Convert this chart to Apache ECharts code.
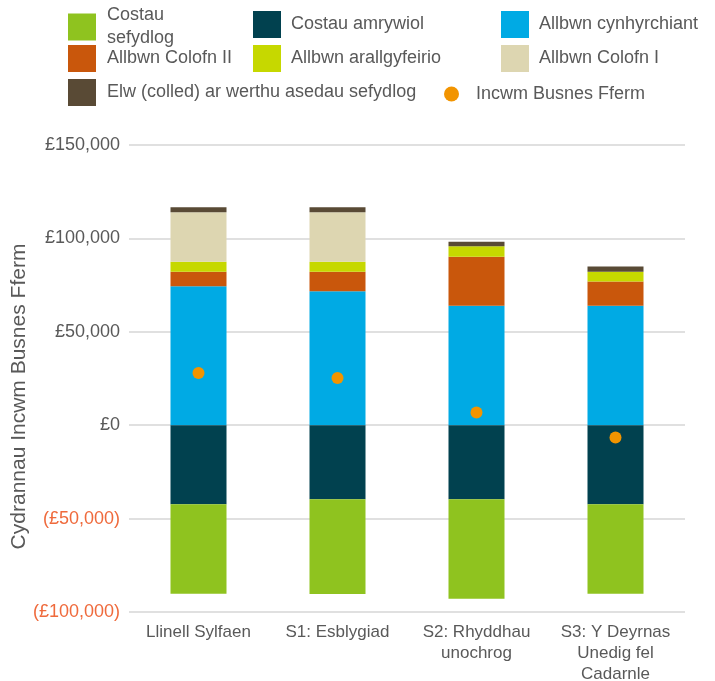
<!DOCTYPE html>
<html>
<head>
<meta charset="utf-8">
<script src="https://cdn.jsdelivr.net/npm/echarts@6/dist/echarts.min.js"></script>
<style>
html,body{margin:0;padding:0;background:#fff;}
#chart{width:715px;height:681px;}
</style>
</head>
<body>
<div id="chart"></div>
<script>
// ---- Data ----
const categories = ['Llinell Sylfaen', 'S1: Esblygiad', 'S2: Rhyddhau\nunochrog', 'S3: Y Deyrnas\nUnedig fel\nCadarnle'];
const allbwnCynhyrchiant = [74400, 71700, 63900, 63900];
const allbwnColofnII = [7800, 10500, 26300, 13000];
const allbwnArallgyfeirio = [5300, 5300, 5600, 5300];
const allbwnColofnI = [26500, 26500, 0, 0];
const elwAsedau = [2700, 2700, 2400, 2700];
const costauAmrywiol = [-42300, -39700, -39700, -42300];
const costauSefydlog = [-47900, -50600, -53200, -47900];
const incwmBusnesFferm = [28000, 25300, 6800, -6600];
const yTicks = { min: -100000, max: 150000, interval: 50000 };

const names = {
  sef: 'Costau sefydlog',
  amr: 'Costau amrywiol',
  cyn: 'Allbwn cynhyrchiant',
  c2: 'Allbwn Colofn II',
  ara: 'Allbwn arallgyfeirio',
  c1: 'Allbwn Colofn I',
  elw: 'Elw (colled) ar werthu asedau sefydlog',
  inc: 'Incwm Busnes Fferm'
};
const colors = {
  sef: '#8FC31F',
  amr: '#01414F',
  cyn: '#00AAE4',
  c2: '#C9570C',
  ara: '#C6D800',
  c1: '#DDD6B1',
  elw: '#594A35',
  inc: '#F29400'
};

const textColor = '#595959';
const fontFamily = 'Liberation Sans, Arial, Helvetica, sans-serif';

function ts(padLeft, extra) {
  return Object.assign({ color: textColor, fontSize: 18, fontFamily: fontFamily, padding: [0, 0, 0, padLeft] }, extra || {});
}

function legendItem(key, left, top, opts) {
  opts = opts || {};
  return Object.assign({
    data: [names[key]],
    left: left,
    top: top,
    padding: 0,
    itemWidth: 28,
    itemHeight: 27,
    icon: 'rect',
    selectedMode: false,
    textStyle: ts(6)
  }, opts);
}

const legends = [
  legendItem('sef', 68, 4, { formatter: () => 'Costau\nsefydlog', textStyle: ts(6, { lineHeight: 23 }) }),
  legendItem('amr', 253, 11, { textStyle: ts(5) }),
  legendItem('cyn', 501, 11, { textStyle: ts(5) }),
  legendItem('c2', 68, 45),
  legendItem('ara', 253, 45, { textStyle: ts(5) }),
  legendItem('c1', 501, 45, { textStyle: ts(5) }),
  legendItem('elw', 68, 79),
  legendItem('inc', 444, 85, { icon: 'circle', itemWidth: 15, itemHeight: 15, textStyle: ts(12) })
];

function barSeries(key, data) {
  return {
    name: names[key],
    type: 'bar',
    stack: 'total',
    barWidth: 56,
    data: data,
    itemStyle: { color: colors[key] },
    emphasis: { disabled: true }
  };
}

const series = [
  barSeries('cyn', allbwnCynhyrchiant),
  barSeries('c2', allbwnColofnII),
  barSeries('ara', allbwnArallgyfeirio),
  barSeries('c1', allbwnColofnI),
  barSeries('elw', elwAsedau),
  barSeries('amr', costauAmrywiol),
  barSeries('sef', costauSefydlog),
  {
    name: names.inc,
    type: 'scatter',
    data: incwmBusnesFferm,
    symbol: 'circle',
    symbolSize: 12,
    itemStyle: { color: colors.inc, opacity: 1 },
    emphasis: { disabled: true },
    z: 5
  }
];

function fmt(v) {
  const s = '£' + Math.abs(v).toLocaleString('en-GB');
  return v < 0 ? '(' + s + ')' : s;
}

const chart = echarts.init(document.getElementById('chart'), null, { renderer: 'canvas' });
chart.setOption({
  animation: false,
  backgroundColor: '#ffffff',
  textStyle: { fontFamily: fontFamily },
  legend: legends,
  grid: { left: 129, right: 30, top: 145, bottom: 69, containLabel: false, outerBoundsMode: 'none' },
  xAxis: {
    type: 'category',
    data: categories,
    axisLine: { show: false },
    axisTick: { show: false },
    axisLabel: { color: textColor, fontSize: 17, fontFamily: fontFamily, lineHeight: 21, margin: 10, interval: 0 }
  },
  yAxis: {
    type: 'value',
    min: yTicks.min,
    max: yTicks.max,
    interval: yTicks.interval,
    name: 'Cydrannau Incwm Busnes Fferm',
    nameLocation: 'middle',
    nameGap: 99,
    nameMoveOverlap: false,
    nameTextStyle: { color: textColor, fontSize: 21, fontFamily: fontFamily, padding: [0, 36, 0, 0] },
    axisLine: { show: false },
    axisTick: { show: false },
    splitLine: { lineStyle: { color: '#D6D6D6', width: 1.5 } },
    axisLabel: {
      fontSize: 18,
      fontFamily: fontFamily,
      margin: 9,
      formatter: fmt,
      color: (v) => (Number(v) < 0 ? '#EF6A3C' : textColor)
    }
  },
  series: series
});
</script>
</body>
</html>
